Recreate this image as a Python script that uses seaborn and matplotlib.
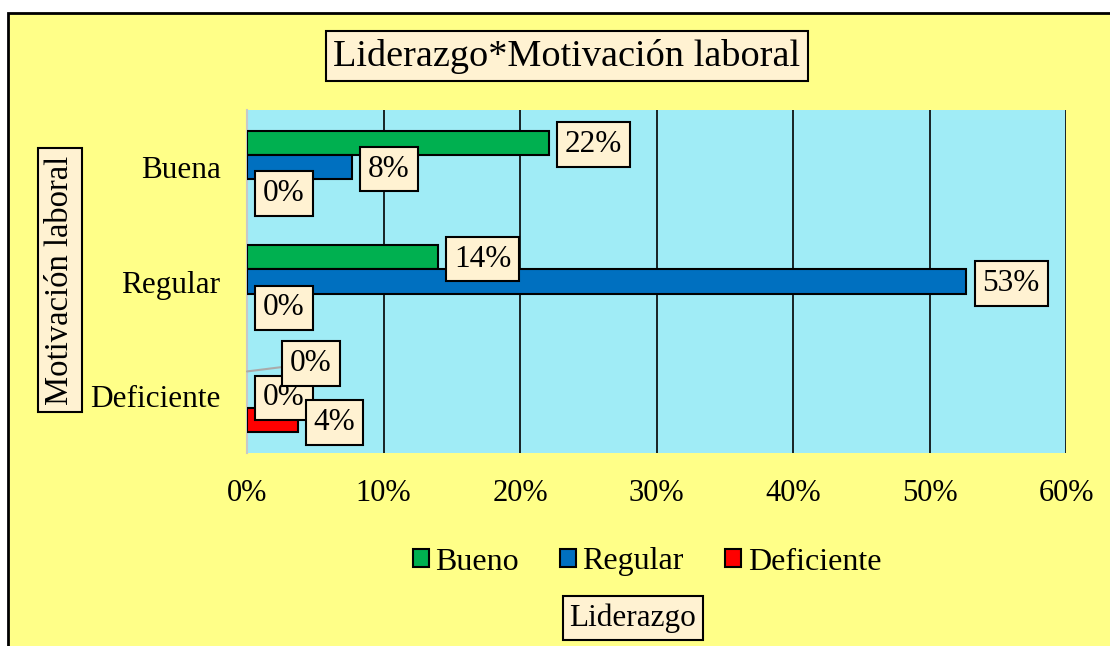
import matplotlib
matplotlib.use("Agg")
import matplotlib.pyplot as plt
import seaborn as sns
import pandas as pd
from matplotlib.patches import Rectangle, Patch

# ---- data ----
categories = ["Buena", "Regular", "Deficiente"]
series_names = ["Bueno", "Regular", "Deficiente"]
bueno_vals = [22.1, 14.0, 0]
regular_vals = [7.7, 52.7, 0]
deficiente_vals = [0, 0, 3.7]
shown_bueno = [22, 14, 0]
shown_regular = [8, 53, 0]
shown_deficiente = [0, 0, 4]
xticks = [0, 10, 20, 30, 40, 50, 60]
xtick_labels = ["0%", "10%", "20%", "30%", "40%", "50%", "60%"]
title = "Liderazgo*Motivación laboral"
ylabel = "Motivación laboral"
xlabel = "Liderazgo"

colors = {"Bueno": "#00B050", "Regular": "#0070C0", "Deficiente": "#FF0000"}
YELLOW = "#FFFF88"
CYAN = "#A0ECF6"
BOXFILL = "#FFF2D2"

rows = []
for i, c in enumerate(categories):
    for s, vals in zip(series_names, [bueno_vals, regular_vals, deficiente_vals]):
        rows.append({"cat": c, "serie": s, "val": vals[i]})
df = pd.DataFrame(rows)

sns.set_style("white")
plt.rcParams["font.family"] = ["Liberation Serif", "DejaVu Serif"]
plt.rcParams["text.color"] = "black"
plt.rcParams["xtick.color"] = "black"
plt.rcParams["ytick.color"] = "black"
plt.rcParams["xtick.labelcolor"] = "black"
plt.rcParams["ytick.labelcolor"] = "black"

fig = plt.figure(figsize=(11.10, 6.46), dpi=100)
fig.patch.set_facecolor("white")
W, H = 1110, 646
# outer yellow chart area
bg = Rectangle((8 / W, -0.1), 1.2, 1 - 13 / H + 0.1, transform=fig.transFigure,
               facecolor=YELLOW, edgecolor="black", linewidth=2, zorder=-10)
fig.patches.append(bg)

ax = fig.add_axes([247 / W, 1 - 453 / H, (1066 - 247) / W, (453 - 110) / H])
ax.set_zorder(5)
ax.set_facecolor(CYAN)

sns.barplot(data=df, y="cat", x="val", hue="serie", order=categories, hue_order=series_names,
            palette=colors, saturation=1, orient="h", width=0.64, gap=0, edgecolor="black",
            linewidth=1.5, ax=ax, legend=False, zorder=3)

ax.set_xlim(0, 60)
ax.set_xticks(xticks)
ax.set_xticklabels(xtick_labels, fontsize=22)
ax.tick_params(axis="x", length=0, pad=19, colors="black")
ax.tick_params(axis="y", length=0, pad=19, labelsize=22.5, colors="black")
ax.grid(axis="x", color="black", linewidth=1.2, zorder=1)
ax.set_axisbelow(True)
for sp in ["top", "right", "bottom"]:
    ax.spines[sp].set_visible(False)
ax.spines["left"].set_color("#c8c8c8")
ax.spines["left"].set_linewidth(1.5)
ax.set_xlabel("")
ax.set_ylabel("")

# data labels
shown = [shown_bueno, shown_regular, shown_deficiente]
bbox = dict(boxstyle="square,pad=0.25", facecolor=BOXFILL, edgecolor="black", linewidth=1.5)
for si, cont in enumerate(ax.containers):
    for ci, bar in enumerate(cont):
        w = bar.get_width()
        if w == 0:
            bar.set_linewidth(0)
        yc = bar.get_y() + bar.get_height() / 2
        txt = f"{shown[si][ci]}%"
        if si == 0 and ci == 2:
            ax.annotate(txt, xy=(0, yc), xytext=(43, 8), textcoords="offset pixels",
                        ha="left", va="center", fontsize=22.5, bbox=bbox, zorder=6,
                        arrowprops=dict(arrowstyle="-", color="#aaaaaa", lw=1.5,
                                        shrinkA=0, shrinkB=0))
        else:
            ax.annotate(txt, xy=(w, yc), xytext=(16, -2), textcoords="offset pixels",
                        ha="left", va="center", fontsize=22.5, bbox=bbox, zorder=5)

# title
fig.text(567 / W, 1 - 56 / H, title, ha="center", va="center", fontsize=27.5, zorder=10,
         bbox=dict(boxstyle="square,pad=0.2", facecolor=BOXFILL, edgecolor="black", linewidth=1.5))
# y label
fig.text(60 / W, 1 - 280 / H, ylabel, ha="center", va="center", rotation=90, fontsize=23.5, zorder=10,
         bbox=dict(boxstyle="square,pad=0.22", facecolor=BOXFILL, edgecolor="black", linewidth=1.5))
# x label
fig.text(633 / W, 1 - 618 / H, xlabel, ha="center", va="center", fontsize=22.5, zorder=10,
         bbox=dict(boxstyle="square,pad=0.22", facecolor=BOXFILL, edgecolor="black", linewidth=1.5))

# legend
handles = [Patch(facecolor=colors[s], edgecolor="black", linewidth=1.5) for s in series_names]
leg = fig.legend(handles, series_names, loc="center", bbox_to_anchor=(647 / W, 1 - 562 / H), ncol=3,
                 frameon=False, fontsize=23, handlelength=0.5, handleheight=0.5, handletextpad=0.2,
                 columnspacing=1.3)
leg.set_zorder(10)

fig.savefig("out.png", dpi=100, facecolor=fig.get_facecolor())
